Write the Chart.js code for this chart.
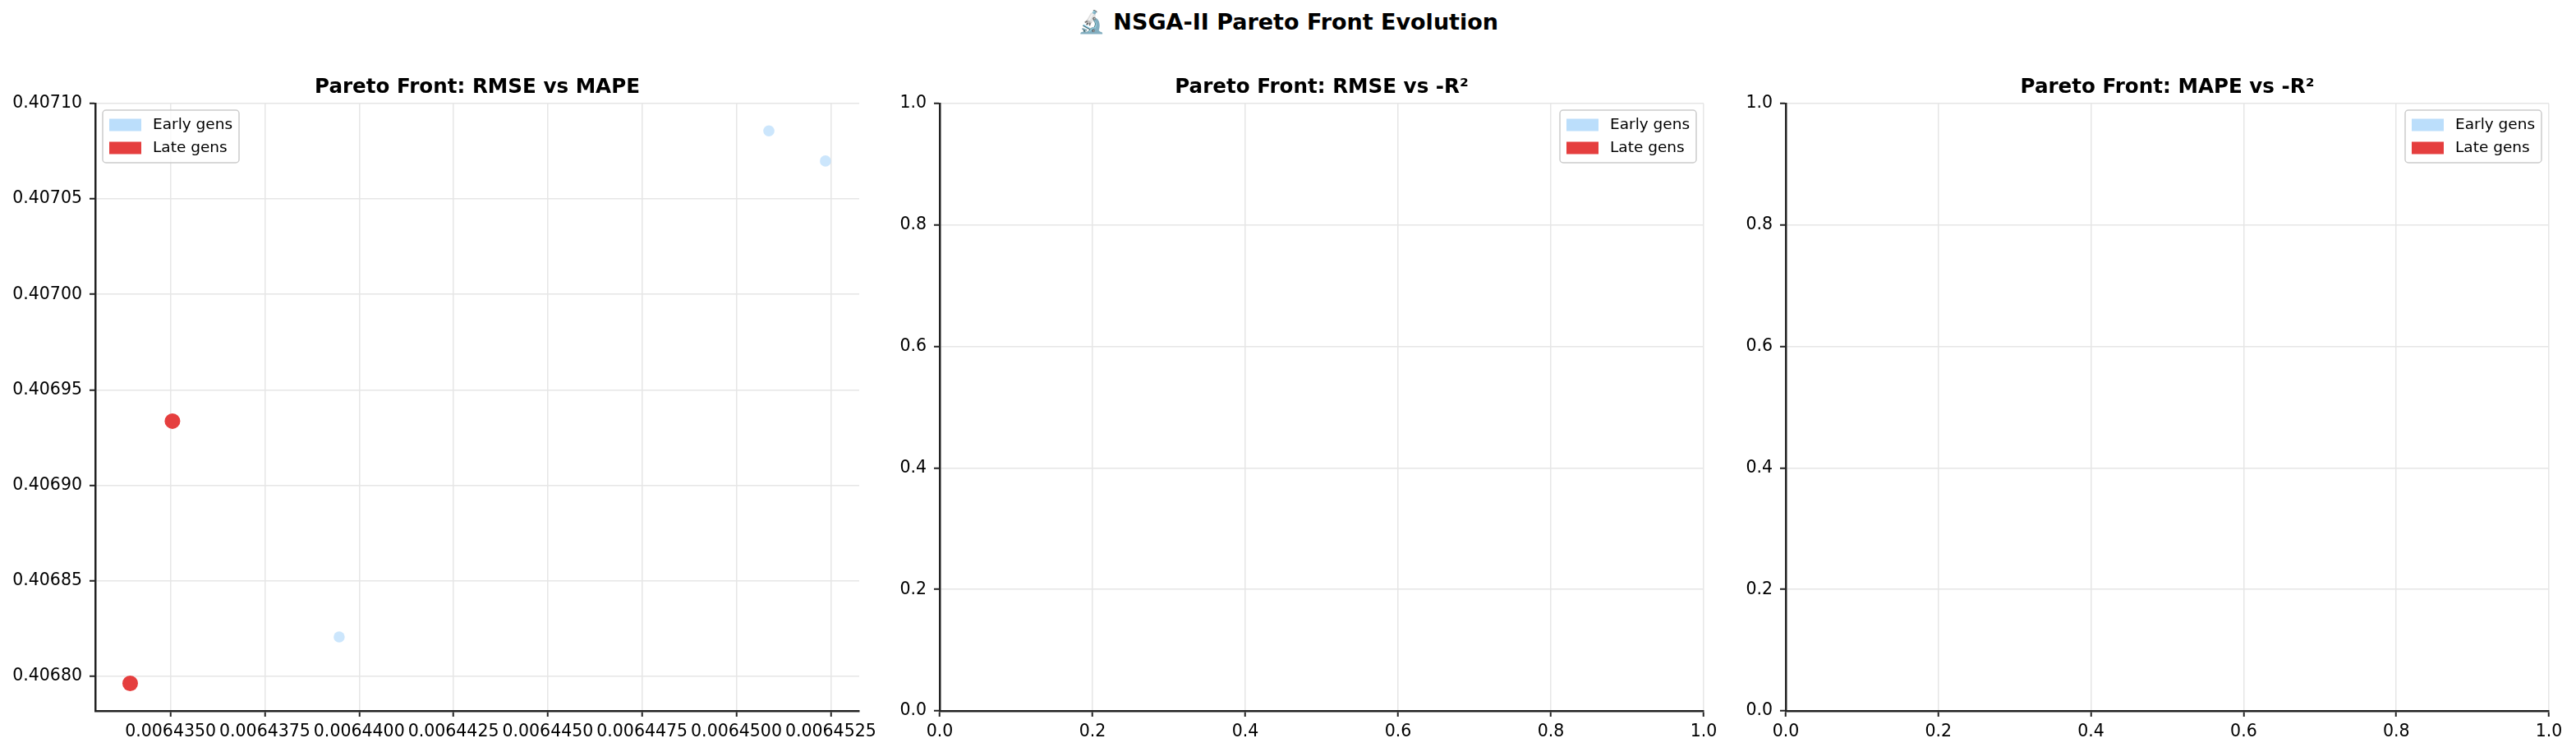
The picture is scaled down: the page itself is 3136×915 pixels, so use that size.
<!DOCTYPE html>
<html>
<head>
<meta charset="utf-8">
<title>NSGA-II Pareto Front Evolution</title>
<script src="https://cdn.jsdelivr.net/npm/chart.js@4.4.0/dist/chart.umd.min.js"></script>
<style>
  html, body { margin: 0; padding: 0; background: #fff; }
  body { width: 3136px; height: 915px; position: relative; overflow: hidden; font-family: 'DejaVu Sans', sans-serif; }
  #suptitle { position: absolute; left: 0; top: 13px; width: 3136px; text-align: center; font-weight: bold; font-size: 27px; line-height: 27px; color: #000; }
  .panel { position: absolute; top: 0; height: 915px; }
  .panel canvas { display: block; }
</style>
</head>
<body>
<div id="suptitle">🔬 NSGA-II Pareto Front Evolution</div>
<div class="panel" style="left:0px;width:1080px"><canvas id="chartRmseMape" width="1080" height="915"></canvas></div>
<div class="panel" style="left:1028px;width:1080px"><canvas id="chartRmseR2" width="1080" height="915"></canvas></div>
<div class="panel" style="left:2058px;width:1078px"><canvas id="chartMapeR2" width="1078" height="915"></canvas></div>

<script>
// --- Dados ---
// Painel 1: RMSE (x) vs MAPE (y)
const rmseMapeEarlyX = [0.00643947, 0.00645086, 0.00645236];
const rmseMapeEarlyY = [0.40682055, 0.40708570, 0.40706990];
const rmseMapeLateX = [0.00643393, 0.00643505];
const rmseMapeLateY = [0.40679619, 0.40693363];

// Painéis 2 e 3: -R² sem valores, nada é desenhado
const rmseR2EarlyX = [];
const rmseR2EarlyY = [];
const rmseR2LateX = [];
const rmseR2LateY = [];
const mapeR2EarlyX = [];
const mapeR2EarlyY = [];
const mapeR2LateX = [];
const mapeR2LateY = [];

// Ticks
const rmseTicks = [0.0064350, 0.0064375, 0.0064400, 0.0064425, 0.0064450, 0.0064475, 0.0064500, 0.0064525];
const mapeTicks = [0.40680, 0.40685, 0.40690, 0.40695, 0.40700, 0.40705, 0.40710];
const unitTicks = [0.0, 0.2, 0.4, 0.6, 0.8, 1.0];

// Limites dos eixos
const rmseRange = [0.006433005, 0.006453255];
const mapeRange = [0.4067818, 0.40710];
const unitRange = [0, 1];

const legendLabels = ['Early gens', 'Late gens'];

const colors = {
    earlyLegend: '#bbdefb',
    earlyPoint: 'rgba(187, 222, 251, 0.75)',
    late: '#e53e3e',
    grid: '#e6e6e6',
    spine: '#222222'
};

const FONT = "'DejaVu Sans', sans-serif";

function zip(xs, ys) {
    return xs.map((x, i) => ({ x: x, y: ys[i] }));
}

// Título do subplot centrado na área do gráfico
const panelTitlePlugin = {
    id: 'panelTitle',
    afterDraw(chart, args, opts) {
        const { ctx, chartArea } = chart;
        ctx.save();
        ctx.font = 'bold 24.6px ' + FONT;
        ctx.fillStyle = '#000';
        ctx.textAlign = 'center';
        ctx.textBaseline = 'alphabetic';
        ctx.fillText(opts.text, (chartArea.left + chartArea.right) / 2, 113);
        ctx.restore();
    }
};

// Legenda dentro da área do gráfico (estilo matplotlib)
const innerLegendPlugin = {
    id: 'innerLegend',
    afterDraw(chart, args, opts) {
        const { ctx, chartArea } = chart;
        const w = 166, h = 64;
        const x = opts.side === 'left' ? chartArea.left + 9 : chartArea.right - 9 - w;
        const y = chartArea.top + 8;
        ctx.save();
        ctx.beginPath();
        ctx.roundRect(x, y, w, h, 4);
        ctx.fillStyle = 'rgba(255, 255, 255, 0.8)';
        ctx.fill();
        ctx.lineWidth = 1.5;
        ctx.strokeStyle = '#cccccc';
        ctx.stroke();
        ctx.font = '18.5px ' + FONT;
        ctx.textBaseline = 'middle';
        ctx.textAlign = 'left';
        chart.data.datasets.forEach((ds, i) => {
            const rowY = y + 18 + i * 28;
            ctx.fillStyle = ds.legendColor;
            ctx.fillRect(x + 8, rowY - 7.5, 39, 15);
            ctx.fillStyle = '#000';
            ctx.fillText(ds.label, x + 61, rowY);
        });
        ctx.restore();
    }
};

function axis(range, ticks, decimals, isX) {
    return {
        type: 'linear',
        min: range[0],
        max: range[1],
        afterBuildTicks: s => { s.ticks = ticks.map(v => ({ value: v })); },
        afterFit: s => {
            if (isX) s.height = 50; else s.width = 116;
        },
        grid: {
            color: colors.grid,
            lineWidth: 1.5,
            drawTicks: true,
            tickLength: 7,
            tickColor: colors.spine,
            tickWidth: 2
        },
        border: { display: true, color: colors.spine, width: 2.5 },
        ticks: {
            color: '#000',
            padding: isX ? 6 : 9,
            maxRotation: 0,
            autoSkip: false,
            font: { family: FONT, size: 20.5 },
            callback: v => Number(v).toFixed(decimals)
        }
    };
}

function renderPanel(canvasId, title, early, late, xCfg, yCfg, legendSide, rightPad) {
    const ctx = document.getElementById(canvasId).getContext('2d');
    new Chart(ctx, {
        type: 'scatter',
        data: {
            datasets: [
                {
                    label: legendLabels[0],
                    data: early,
                    legendColor: colors.earlyLegend,
                    backgroundColor: colors.earlyPoint,
                    borderColor: colors.earlyPoint,
                    borderWidth: 0,
                    pointRadius: 6.8
                },
                {
                    label: legendLabels[1],
                    data: late,
                    legendColor: colors.late,
                    backgroundColor: colors.late,
                    borderColor: colors.late,
                    borderWidth: 0,
                    pointRadius: 9.5
                }
            ]
        },
        options: {
            responsive: false,
            animation: false,
            devicePixelRatio: 1,
            layout: { padding: { top: 126, left: 0, right: rightPad, bottom: 0 } },
            scales: {
                x: axis(xCfg.range, xCfg.ticks, xCfg.decimals, true),
                y: axis(yCfg.range, yCfg.ticks, yCfg.decimals, false)
            },
            plugins: {
                legend: { display: false },
                title: { display: false },
                tooltip: { enabled: false },
                panelTitle: { text: title },
                innerLegend: { side: legendSide }
            }
        },
        plugins: [panelTitlePlugin, innerLegendPlugin]
    });
}

const unitAxis = { range: unitRange, ticks: unitTicks, decimals: 1 };

renderPanel('chartRmseMape', 'Pareto Front: RMSE vs MAPE',
    zip(rmseMapeEarlyX, rmseMapeEarlyY), zip(rmseMapeLateX, rmseMapeLateY),
    { range: rmseRange, ticks: rmseTicks, decimals: 7 },
    { range: mapeRange, ticks: mapeTicks, decimals: 5 },
    'left', 34);

renderPanel('chartRmseR2', 'Pareto Front: RMSE vs -R²',
    zip(rmseR2EarlyX, rmseR2EarlyY), zip(rmseR2LateX, rmseR2LateY),
    unitAxis, unitAxis, 'right', 34);

renderPanel('chartMapeR2', 'Pareto Front: MAPE vs -R²',
    zip(mapeR2EarlyX, mapeR2EarlyY), zip(mapeR2LateX, mapeR2LateY),
    unitAxis, unitAxis, 'right', 33);
</script>
</body>
</html>
